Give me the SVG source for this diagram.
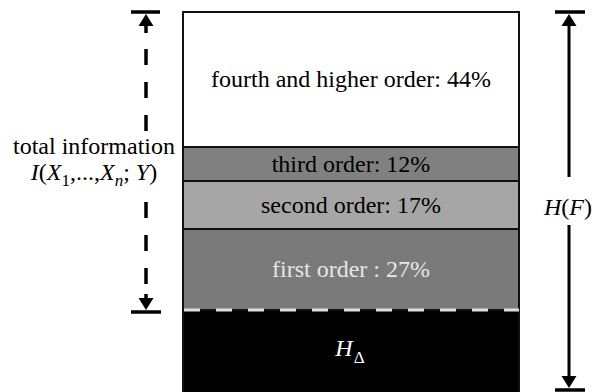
<svg xmlns="http://www.w3.org/2000/svg" width="600" height="392" viewBox="0 0 600 392">
  <style>
    .lbl { font-family: "Liberation Serif", "Times New Roman", serif; font-size: 24px; text-anchor: middle; }
    .it { font-style: italic; }
    .band { stroke: #111; stroke-width: 2; }
    .bar { stroke: #000; stroke-width: 3.5; }
    .dash { stroke: #000; stroke-width: 3.5; stroke-dasharray: 16 17; }
    .solid { stroke: #000; stroke-width: 3; }
  </style>
  <defs>
    <path id="tipUp" d="M0,0 L7.5,12 L-7.5,12 Z" fill="#000"/>
    <path id="tipDown" d="M0,0 L7.5,-12 L-7.5,-12 Z" fill="#000"/>
  </defs>

  <!-- stacked bar -->
  <g id="fourth">
    <rect class="band" x="183" y="12" width="336" height="135" fill="#fff"/>
    <text class="lbl" x="351" y="87">fourth and higher order: 44%</text>
  </g>
  <g id="third">
    <rect class="band" x="183" y="147" width="336" height="34" fill="#808080"/>
    <text class="lbl" x="351" y="172">third order: 12%</text>
  </g>
  <g id="second">
    <rect class="band" x="183" y="181" width="336" height="48" fill="#a6a6a6"/>
    <text class="lbl" x="351" y="213">second order: 17%</text>
  </g>
  <g id="first">
    <rect x="183" y="229" width="336" height="81" fill="#7a7a7a" stroke="#111" stroke-width="2"/>
    <text class="lbl" x="351" y="277" fill="#e6e6e6">first order : 27%</text>
  </g>
  <g id="hdelta">
    <rect x="183" y="310" width="336" height="84" fill="#000" stroke="#111" stroke-width="2"/>
    <line x1="184" y1="310" x2="519" y2="310" stroke="#ddd" stroke-width="3" stroke-dasharray="16 16"/>
    <text class="lbl it" x="350" y="356" fill="#fff">H<tspan font-size="17" font-style="normal" dx="1" dy="7">Δ</tspan></text>
  </g>

  <!-- labels -->
  <g id="total">
    <text class="lbl" x="94" y="154">total information</text>
    <text class="lbl" x="94" y="180"><tspan class="it">I</tspan>(<tspan class="it">X</tspan><tspan font-size="17" dy="6">1</tspan><tspan dy="-6">,...,</tspan><tspan class="it">X</tspan><tspan class="it" font-size="17" dy="6">n</tspan><tspan dy="-6">; </tspan><tspan class="it">Y</tspan>)</text>
  </g>
  <g id="hf">
    <text class="lbl" x="568" y="215"><tspan class="it">H</tspan>(<tspan class="it">F</tspan>)</text>
  </g>

  <!-- connectors -->
  <g id="connectors" fill="none">
    <!-- total information span (dashed) -->
    <line class="bar" x1="131" y1="12" x2="160" y2="12"/>
    <line class="bar" x1="131" y1="312" x2="161" y2="312"/>
    <use href="#tipUp" x="146" y="14"/>
    <line class="bar" x1="146" y1="24" x2="146" y2="33"/>
    <line class="dash" x1="146" y1="49" x2="146" y2="132"/>
    <line class="dash" x1="146" y1="202" x2="146" y2="285"/>
    <line class="bar" x1="146" y1="294" x2="146" y2="300"/>
    <use href="#tipDown" x="146" y="310"/>

    <!-- H(F) span (solid) -->
    <line class="bar" x1="555" y1="12" x2="585" y2="12"/>
    <line class="bar" x1="555" y1="390" x2="585" y2="390"/>
    <use href="#tipUp" x="569" y="14"/>
    <line class="solid" x1="569" y1="24" x2="569" y2="177"/>
    <line class="solid" x1="569" y1="225" x2="569" y2="378"/>
    <use href="#tipDown" x="569" y="388"/>
  </g>
</svg>
